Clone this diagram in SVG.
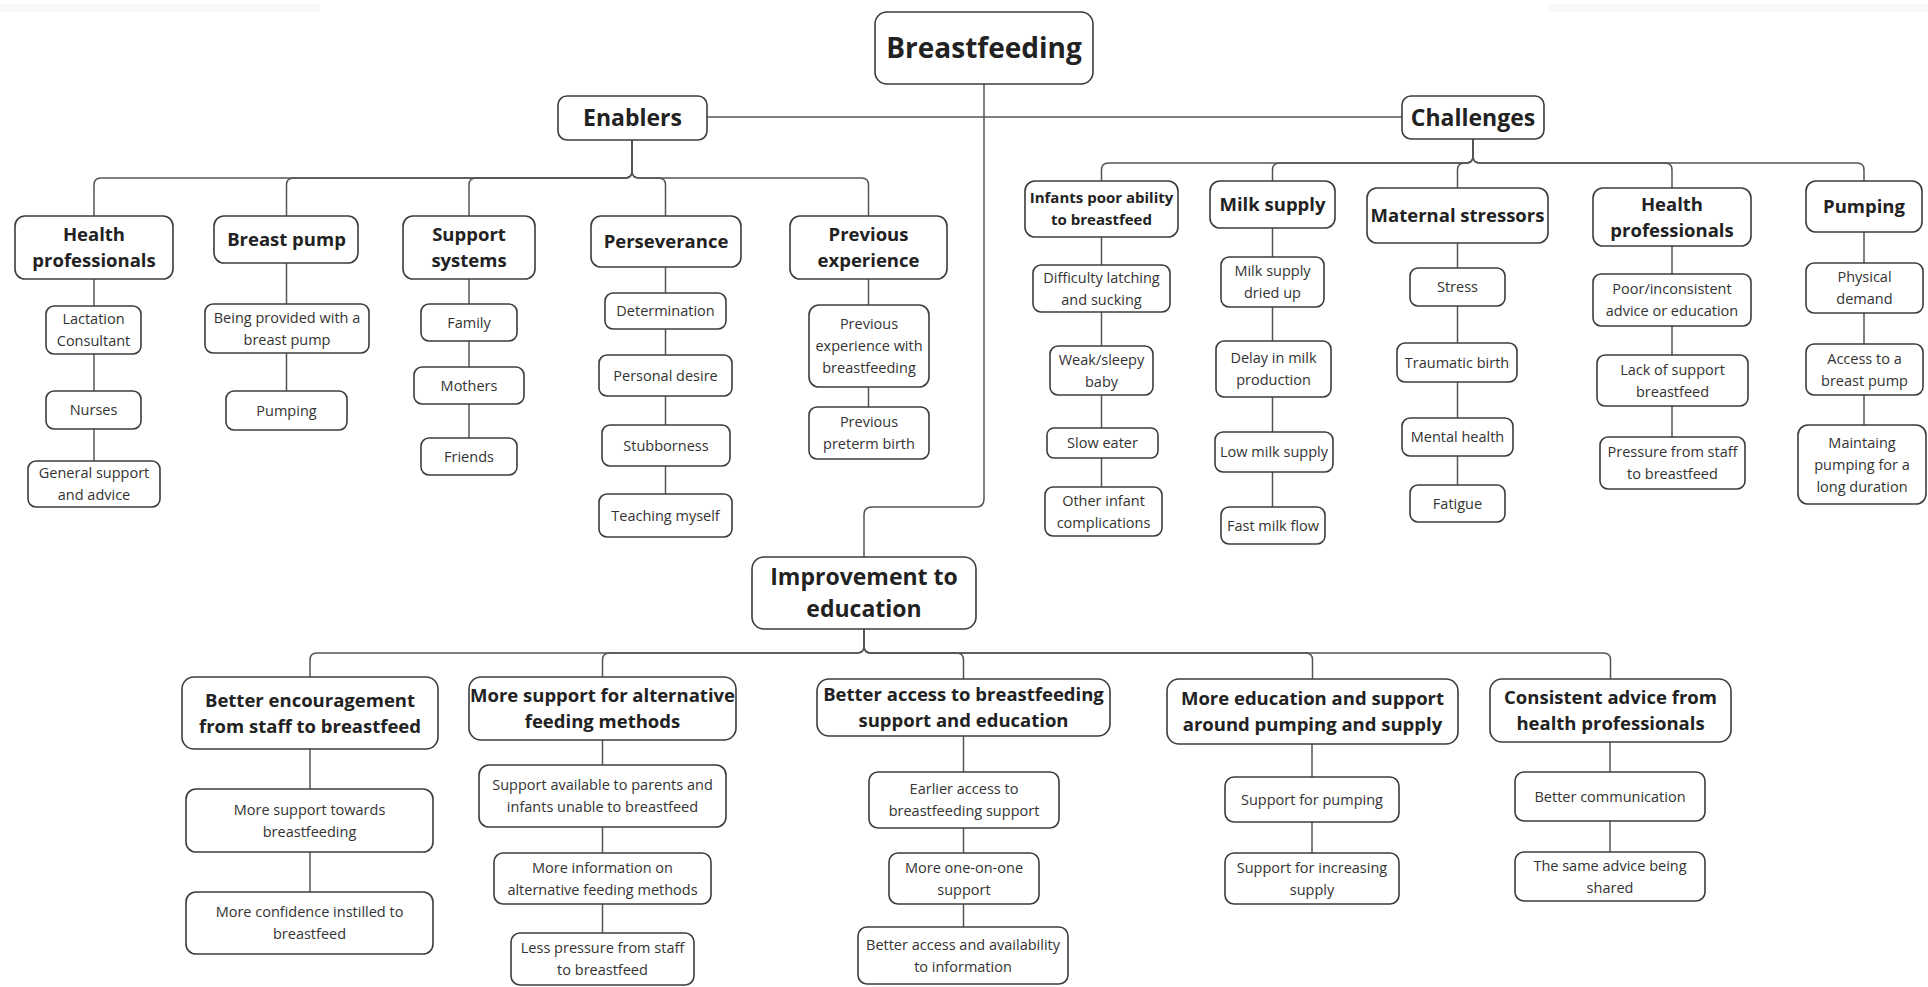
<svg xmlns="http://www.w3.org/2000/svg" width="1928" height="987" viewBox="0 0 1928 987">
<style>
.box{fill:#fff;stroke:#3c3c3c;stroke-width:1.6}
text{font-family:"Open Sans","Noto Sans",sans-serif;text-anchor:middle}
.h1{font-size:28px;font-weight:700;fill:#222}
.h2{font-size:23px;font-weight:700;fill:#222}
.h3{font-size:18.5px;font-weight:700;fill:#222}
.h4{font-size:15px;font-weight:700;fill:#222}
.lf{font-size:14.5px;fill:#333}
.conn{fill:none;stroke:#555;stroke-width:1.5}
</style>
<rect x="0" y="4" width="320" height="8" fill="#f8f8f8"/>
<rect x="1548" y="4" width="380" height="8" fill="#f8f8f8"/>
<g id="connectors" class="conn">
<path d="M984,84 V499 Q984,507 976,507 H872 Q864,507 864,515 V557"/>
<path d="M707,117 H1402"/>
<path d="M632,140 V171 Q632,178 625,178 H101 Q94,178 94,185 V216"/>
<path d="M632,140 V171 Q632,178 625,178 H293.5 Q286.5,178 286.5,185 V216"/>
<path d="M632,140 V171 Q632,178 625,178 H476 Q469,178 469,185 V216"/>
<path d="M632,140 V171 Q632,178 639,178 H658.5 Q665.5,178 665.5,185 V216"/>
<path d="M632,140 V171 Q632,178 639,178 H861.5 Q868.5,178 868.5,185 V216"/>
<path d="M1473,139 V156 Q1473,163 1466,163 H1108.5 Q1101.5,163 1101.5,170 V181"/>
<path d="M1473,139 V156 Q1473,163 1466,163 H1279.5 Q1272.5,163 1272.5,170 V181"/>
<path d="M1473,139 V156 Q1473,163 1466,163 H1464.5 Q1457.5,163 1457.5,170 V188"/>
<path d="M1473,139 V156 Q1473,163 1480,163 H1665 Q1672,163 1672,170 V188"/>
<path d="M1473,139 V156 Q1473,163 1480,163 H1857 Q1864,163 1864,170 V181"/>
<path d="M864,629 V646 Q864,653 857,653 H317 Q310,653 310,660 V677"/>
<path d="M864,629 V646 Q864,653 857,653 H609.5 Q602.5,653 602.5,660 V677"/>
<path d="M864,629 V646 Q864,653 871,653 H956.5 Q963.5,653 963.5,660 V679"/>
<path d="M864,629 V646 Q864,653 871,653 H1305.5 Q1312.5,653 1312.5,660 V679"/>
<path d="M864,629 V646 Q864,653 871,653 H1603.5 Q1610.5,653 1610.5,660 V679"/>
<path d="M94,279 V306 M94,354 V391 M94,429 V461"/>
<path d="M286.5,263 V304 M286.5,353 V391"/>
<path d="M469,279 V304 M469,341 V367 M469,404 V438"/>
<path d="M665.5,267 V293 M665.5,329 V355 M665.5,396 V425 M665.5,466 V494"/>
<path d="M868.5,279 V305 M868.5,387 V407"/>
<path d="M1101.5,237 V265 M1101.5,312 V346 M1101.5,395 V428 M1101.5,458 V487"/>
<path d="M1272.5,228 V257 M1272.5,307 V341 M1272.5,397 V432 M1272.5,472 V507"/>
<path d="M1457.5,243 V268 M1457.5,306 V343 M1457.5,382 V418 M1457.5,456 V485"/>
<path d="M1672,246 V274 M1672,326 V355 M1672,406 V437"/>
<path d="M1864,232 V263 M1864,313 V344 M1864,395 V425"/>
<path d="M310,749 V789 M310,852 V892"/>
<path d="M602.5,740 V765 M602.5,827 V853 M602.5,904 V933"/>
<path d="M963.5,736 V772 M963.5,828 V853 M963.5,904 V927"/>
<path d="M1312,744 V777 M1312,822 V853"/>
<path d="M1610,742 V772 M1610,821 V852"/>
</g>
<g id="root"><rect class="box" x="875" y="12" width="218" height="72" rx="12"/><text class="h1" x="984" y="58">Breastfeeding</text></g>
<g id="enablers"><rect class="box" x="558" y="96" width="149" height="44" rx="9"/><text class="h2" x="632.5" y="126">Enablers</text></g>
<g id="challenges"><rect class="box" x="1402" y="96" width="142" height="43" rx="9"/><text class="h2" x="1473" y="125.5">Challenges</text></g>
<g id="improvement"><rect class="box" x="752" y="557" width="224" height="72" rx="12"/><text class="h2" x="864" y="585">Improvement to<tspan x="864" dy="32">education</tspan></text></g>

<g id="en-health"><rect class="box" x="15" y="216" width="158" height="63" rx="10"/><text class="h3" x="94" y="241">Health<tspan x="94" dy="26">professionals</tspan></text></g>
<g id="en-pump"><rect class="box" x="214" y="216" width="144" height="47" rx="10"/><text class="h3" x="286.5" y="246">Breast pump</text></g>
<g id="en-support"><rect class="box" x="403" y="216" width="132" height="63" rx="10"/><text class="h3" x="469" y="241">Support<tspan x="469" dy="26">systems</tspan></text></g>
<g id="en-persev"><rect class="box" x="591" y="216" width="150" height="51" rx="10"/><text class="h3" x="666" y="248">Perseverance</text></g>
<g id="en-prev"><rect class="box" x="790" y="216" width="157" height="63" rx="10"/><text class="h3" x="868.5" y="241">Previous<tspan x="868.5" dy="26">experience</tspan></text></g>

<g id="lf-lactation"><rect class="box" x="46" y="306" width="95" height="48" rx="8"/><text class="lf" x="93.5" y="324">Lactation<tspan x="93.5" dy="22">Consultant</tspan></text></g>
<g id="lf-nurses"><rect class="box" x="46" y="391" width="95" height="38" rx="8"/><text class="lf" x="93.5" y="415">Nurses</text></g>
<g id="lf-general"><rect class="box" x="28" y="461" width="132" height="46" rx="8"/><text class="lf" x="94" y="478">General support<tspan x="94" dy="22">and advice</tspan></text></g>
<g id="lf-provided"><rect class="box" x="205" y="304" width="164" height="49" rx="8"/><text class="lf" x="287" y="322.5">Being provided with a<tspan x="287" dy="22">breast pump</tspan></text></g>
<g id="lf-pumping"><rect class="box" x="226" y="391" width="121" height="39" rx="8"/><text class="lf" x="286.5" y="415.5">Pumping</text></g>
<g id="lf-family"><rect class="box" x="421" y="304" width="96" height="37" rx="8"/><text class="lf" x="469" y="327.5">Family</text></g>
<g id="lf-mothers"><rect class="box" x="414" y="367" width="110" height="37" rx="8"/><text class="lf" x="469" y="390.5">Mothers</text></g>
<g id="lf-friends"><rect class="box" x="421" y="438" width="96" height="37" rx="8"/><text class="lf" x="469" y="461.5">Friends</text></g>
<g id="lf-determination"><rect class="box" x="605" y="293" width="121" height="36" rx="8"/><text class="lf" x="665.5" y="316">Determination</text></g>
<g id="lf-desire"><rect class="box" x="599" y="355" width="133" height="41" rx="8"/><text class="lf" x="665.5" y="380.5">Personal desire</text></g>
<g id="lf-stubborn"><rect class="box" x="602" y="425" width="128" height="41" rx="8"/><text class="lf" x="666" y="450.5">Stubborness</text></g>
<g id="lf-teaching"><rect class="box" x="599" y="494" width="133" height="43" rx="8"/><text class="lf" x="665.5" y="520.5">Teaching myself</text></g>
<g id="lf-prevexp"><rect class="box" x="809" y="305" width="120" height="82" rx="10"/><text class="lf" x="869" y="329">Previous<tspan x="869" dy="22">experience with</tspan><tspan x="869" dy="22">breastfeeding</tspan></text></g>
<g id="lf-preterm"><rect class="box" x="809" y="407" width="120" height="52" rx="8"/><text class="lf" x="869" y="427">Previous<tspan x="869" dy="22">preterm birth</tspan></text></g>

<g id="ch-infants"><rect class="box" x="1025" y="181" width="153" height="56" rx="10"/><text class="h4" x="1101.5" y="203">Infants poor ability<tspan x="1101.5" dy="22">to breastfeed</tspan></text></g>
<g id="ch-milk"><rect class="box" x="1210" y="181" width="125" height="47" rx="10"/><text class="h3" x="1272.5" y="211">Milk supply</text></g>
<g id="ch-maternal"><rect class="box" x="1367" y="188" width="181" height="55" rx="10"/><text class="h3" x="1457.5" y="222">Maternal stressors</text></g>
<g id="ch-health"><rect class="box" x="1593" y="188" width="158" height="58" rx="10"/><text class="h3" x="1672" y="210.5">Health<tspan x="1672" dy="26">professionals</tspan></text></g>
<g id="ch-pumping"><rect class="box" x="1806" y="181" width="116" height="51" rx="10"/><text class="h3" x="1864" y="213">Pumping</text></g>

<g id="lf-latching"><rect class="box" x="1033" y="265" width="137" height="47" rx="8"/><text class="lf" x="1101.5" y="282.5">Difficulty latching<tspan x="1101.5" dy="22">and sucking</tspan></text></g>
<g id="lf-weak"><rect class="box" x="1050" y="346" width="103" height="49" rx="8"/><text class="lf" x="1101.5" y="364.5">Weak/sleepy<tspan x="1101.5" dy="22">baby</tspan></text></g>
<g id="lf-slow"><rect class="box" x="1047" y="428" width="111" height="30" rx="7"/><text class="lf" x="1102.5" y="448">Slow eater</text></g>
<g id="lf-other"><rect class="box" x="1045" y="487" width="117" height="49" rx="8"/><text class="lf" x="1103.5" y="505.5">Other infant<tspan x="1103.5" dy="22">complications</tspan></text></g>
<g id="lf-dried"><rect class="box" x="1221" y="257" width="103" height="50" rx="8"/><text class="lf" x="1272.5" y="276">Milk supply<tspan x="1272.5" dy="22">dried up</tspan></text></g>
<g id="lf-delay"><rect class="box" x="1216" y="341" width="115" height="56" rx="8"/><text class="lf" x="1273.5" y="363">Delay in milk<tspan x="1273.5" dy="22">production</tspan></text></g>
<g id="lf-low"><rect class="box" x="1215" y="432" width="118" height="40" rx="8"/><text class="lf" x="1274" y="457">Low milk supply</text></g>
<g id="lf-fast"><rect class="box" x="1221" y="507" width="104" height="37" rx="8"/><text class="lf" x="1273" y="530.5">Fast milk flow</text></g>
<g id="lf-stress"><rect class="box" x="1410" y="268" width="95" height="38" rx="8"/><text class="lf" x="1457.5" y="292">Stress</text></g>
<g id="lf-traumatic"><rect class="box" x="1397" y="343" width="120" height="39" rx="8"/><text class="lf" x="1457" y="367.5">Traumatic birth</text></g>
<g id="lf-mental"><rect class="box" x="1402" y="418" width="111" height="38" rx="8"/><text class="lf" x="1457.5" y="442">Mental health</text></g>
<g id="lf-fatigue"><rect class="box" x="1410" y="485" width="95" height="37" rx="8"/><text class="lf" x="1457.5" y="508.5">Fatigue</text></g>
<g id="lf-poor"><rect class="box" x="1593" y="274" width="158" height="52" rx="8"/><text class="lf" x="1672" y="294">Poor/inconsistent<tspan x="1672" dy="22">advice or education</tspan></text></g>
<g id="lf-lack"><rect class="box" x="1597" y="355" width="151" height="51" rx="8"/><text class="lf" x="1672.5" y="374.5">Lack of support<tspan x="1672.5" dy="22">breastfeed</tspan></text></g>
<g id="lf-pressure"><rect class="box" x="1600" y="437" width="145" height="52" rx="8"/><text class="lf" x="1672.5" y="457">Pressure from staff<tspan x="1672.5" dy="22">to breastfeed</tspan></text></g>
<g id="lf-physical"><rect class="box" x="1806" y="263" width="117" height="50" rx="8"/><text class="lf" x="1864.5" y="282">Physical<tspan x="1864.5" dy="22">demand</tspan></text></g>
<g id="lf-access"><rect class="box" x="1806" y="344" width="117" height="51" rx="8"/><text class="lf" x="1864.5" y="363.5">Access to a<tspan x="1864.5" dy="22">breast pump</tspan></text></g>
<g id="lf-maintaing"><rect class="box" x="1798" y="425" width="128" height="79" rx="10"/><text class="lf" x="1862" y="447.5">Maintaing<tspan x="1862" dy="22">pumping for a</tspan><tspan x="1862" dy="22">long duration</tspan></text></g>

<g id="im-encourage"><rect class="box" x="182" y="677" width="256" height="72" rx="12"/><text class="h3" x="310" y="706.5">Better encouragement<tspan x="310" dy="26">from staff to breastfeed</tspan></text></g>
<g id="im-alternative"><rect class="box" x="469" y="677" width="267" height="63" rx="12"/><text class="h3" x="602.5" y="702">More support for alternative<tspan x="602.5" dy="26">feeding methods</tspan></text></g>
<g id="im-access"><rect class="box" x="817" y="679" width="293" height="57" rx="12"/><text class="h3" x="963.5" y="701">Better access to breastfeeding<tspan x="963.5" dy="26">support and education</tspan></text></g>
<g id="im-pumping"><rect class="box" x="1167" y="679" width="291" height="65" rx="12"/><text class="h3" x="1312.5" y="705">More education and support<tspan x="1312.5" dy="26">around pumping and supply</tspan></text></g>
<g id="im-consistent"><rect class="box" x="1490" y="679" width="241" height="63" rx="12"/><text class="h3" x="1610.5" y="704">Consistent advice from<tspan x="1610.5" dy="26">health professionals</tspan></text></g>

<g id="lf-towards"><rect class="box" x="186" y="789" width="247" height="63" rx="10"/><text class="lf" x="309.5" y="814.5">More support towards<tspan x="309.5" dy="22">breastfeeding</tspan></text></g>
<g id="lf-confidence"><rect class="box" x="186" y="892" width="247" height="62" rx="10"/><text class="lf" x="309.5" y="917">More confidence instilled to<tspan x="309.5" dy="22">breastfeed</tspan></text></g>
<g id="lf-available"><rect class="box" x="479" y="765" width="247" height="62" rx="10"/><text class="lf" x="602.5" y="790">Support available to parents and<tspan x="602.5" dy="22">infants unable to breastfeed</tspan></text></g>
<g id="lf-information"><rect class="box" x="494" y="853" width="217" height="51" rx="9"/><text class="lf" x="602.5" y="872.5">More information on<tspan x="602.5" dy="22">alternative feeding methods</tspan></text></g>
<g id="lf-lesspressure"><rect class="box" x="511" y="933" width="183" height="52" rx="9"/><text class="lf" x="602.5" y="953">Less pressure from staff<tspan x="602.5" dy="22">to breastfeed</tspan></text></g>
<g id="lf-earlier"><rect class="box" x="869" y="772" width="190" height="56" rx="9"/><text class="lf" x="964" y="794">Earlier access to<tspan x="964" dy="22">breastfeeding support</tspan></text></g>
<g id="lf-oneonone"><rect class="box" x="889" y="853" width="150" height="51" rx="9"/><text class="lf" x="964" y="872.5">More one-on-one<tspan x="964" dy="22">support</tspan></text></g>
<g id="lf-availability"><rect class="box" x="858" y="927" width="210" height="57" rx="9"/><text class="lf" x="963" y="949.5">Better access and availability<tspan x="963" dy="22">to information</tspan></text></g>
<g id="lf-supportpumping"><rect class="box" x="1225" y="777" width="174" height="45" rx="9"/><text class="lf" x="1312" y="804.5">Support for pumping</text></g>
<g id="lf-increasing"><rect class="box" x="1225" y="853" width="174" height="51" rx="9"/><text class="lf" x="1312" y="872.5">Support for increasing<tspan x="1312" dy="22">supply</tspan></text></g>
<g id="lf-communication"><rect class="box" x="1515" y="772" width="190" height="49" rx="9"/><text class="lf" x="1610" y="801.5">Better communication</text></g>
<g id="lf-same"><rect class="box" x="1515" y="852" width="190" height="49" rx="9"/><text class="lf" x="1610" y="870.5">The same advice being<tspan x="1610" dy="22">shared</tspan></text></g>
</svg>
